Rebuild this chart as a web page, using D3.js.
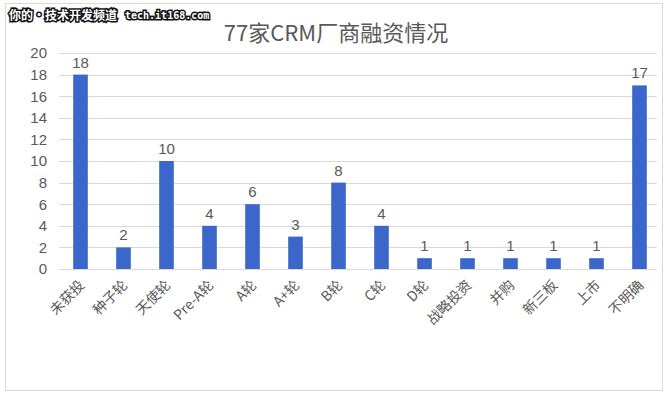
<!DOCTYPE html>
<html>
<head>
<meta charset="utf-8">
<script src="https://cdn.jsdelivr.net/npm/d3@7"></script>
<style>
  body { margin: 0; background: #fff; }
  svg { display: block; font-family: "Noto Sans CJK SC", "Liberation Sans", sans-serif; }
</style>
</head>
<body>
<svg id="drawing_region"></svg>
<script>
const categories = ['未获投', '种子轮', '天使轮', 'Pre-A轮', 'A轮', 'A+轮', 'B轮', 'C轮', 'D轮', '战略投资', '并购', '新三板', '上市', '不明确'];
const values = [18, 2, 10, 4, 6, 3, 8, 4, 1, 1, 1, 1, 1, 17];
const yTicks = [0, 2, 4, 6, 8, 10, 12, 14, 16, 18, 20];
const title = '77家CRM厂商融资情况';

const width = 670, height = 399;
const margin = {top: 53, right: 9, bottom: 130, left: 59};

const svg = d3.select('#drawing_region')
    .attr('width', width)
    .attr('height', height);

// chart frame
svg.append('rect')
    .attr('x', 5.5).attr('y', 3.5)
    .attr('width', 657).attr('height', 387)
    .attr('fill', '#fff')
    .attr('stroke', '#d9d9d9');

const chart = svg.append('g')
    .attr('transform', `translate(${margin.left}, ${margin.top})`);

const inner_width = width - margin.left - margin.right;
const inner_height = 269 - margin.top;

const xscale = d3.scaleBand()
    .domain(d3.range(categories.length))
    .range([0, inner_width])
    .paddingInner(0.66)
    .paddingOuter(0.33);

const yscale = d3.scaleLinear()
    .domain([0, 20])
    .range([inner_height, 0]);

// grid
chart.append('g')
    .selectAll('line')
    .data(yTicks)
    .join('line')
    .attr('x1', 0).attr('x2', inner_width - 4)
    .attr('y1', d => Math.round(yscale(d)) + 0.5)
    .attr('y2', d => Math.round(yscale(d)) + 0.5)
    .attr('stroke', '#d9d9d9');

// y axis labels
const yaxis = d3.axisLeft(yscale).tickValues(yTicks).tickSize(0).tickPadding(12);
chart.append('g')
    .call(yaxis)
    .call(g => g.select('.domain').remove())
    .selectAll('text')
    .attr('fill', '#595959')
    .attr('font-size', 15)
    .attr('font-family', '"Liberation Sans", sans-serif');

// bars
chart.append('g')
    .selectAll('rect')
    .data(values)
    .join('rect')
    .attr('x', (d, i) => xscale(i))
    .attr('y', d => yscale(d))
    .attr('width', xscale.bandwidth())
    .attr('height', d => inner_height - yscale(d))
    .attr('fill', '#3a67c9');

// value labels
chart.append('g')
    .selectAll('text')
    .data(values)
    .join('text')
    .attr('x', (d, i) => xscale(i) + xscale.bandwidth() / 2)
    .attr('y', d => yscale(d) - 7)
    .attr('text-anchor', 'middle')
    .attr('fill', '#595959')
    .attr('font-size', 15)
    .attr('font-family', '"Liberation Sans", sans-serif')
    .text(d => d);

// x axis
const xaxis = d3.axisBottom(xscale).tickFormat(i => categories[i]).tickSize(0).tickPadding(0);
chart.append('g')
    .attr('transform', `translate(0, ${inner_height})`)
    .call(xaxis)
    .call(g => g.select('.domain').attr('stroke', '#d9d9d9').attr('d', `M0,0.5H${inner_width - 4}`))
    .selectAll('text')
    .attr('fill', '#595959')
    .attr('font-size', 14)
    .attr('font-family', '"Noto Sans CJK SC", sans-serif')
    .attr('text-anchor', 'end')
    .attr('dy', 0)
    .attr('transform', 'translate(5, 17) rotate(-45)');

// title
svg.append('text')
    .attr('x', 336)
    .attr('y', 41)
    .attr('text-anchor', 'middle')
    .attr('fill', '#595959')
    .attr('font-size', 22)
    .attr('font-family', '"Noto Sans CJK SC", sans-serif')
    .text(title);

// watermark
const mark = svg.append('g')
    .attr('font-weight', 'bold')
    .attr('fill', '#fff')
    .attr('stroke', '#111')
    .attr('stroke-width', 3)
    .attr('paint-order', 'stroke');
mark.append('text')
    .attr('x', 9).attr('y', 20)
    .attr('font-size', 12)
    .attr('font-family', '"Noto Sans CJK SC", sans-serif')
    .text('你的·技术开发频道');
mark.append('text')
    .attr('x', 125).attr('y', 19)
    .attr('font-size', 10)
    .attr('font-family', '"DejaVu Sans Mono", monospace')
    .text('tech.it168.com');
</script>
</body>
</html>
